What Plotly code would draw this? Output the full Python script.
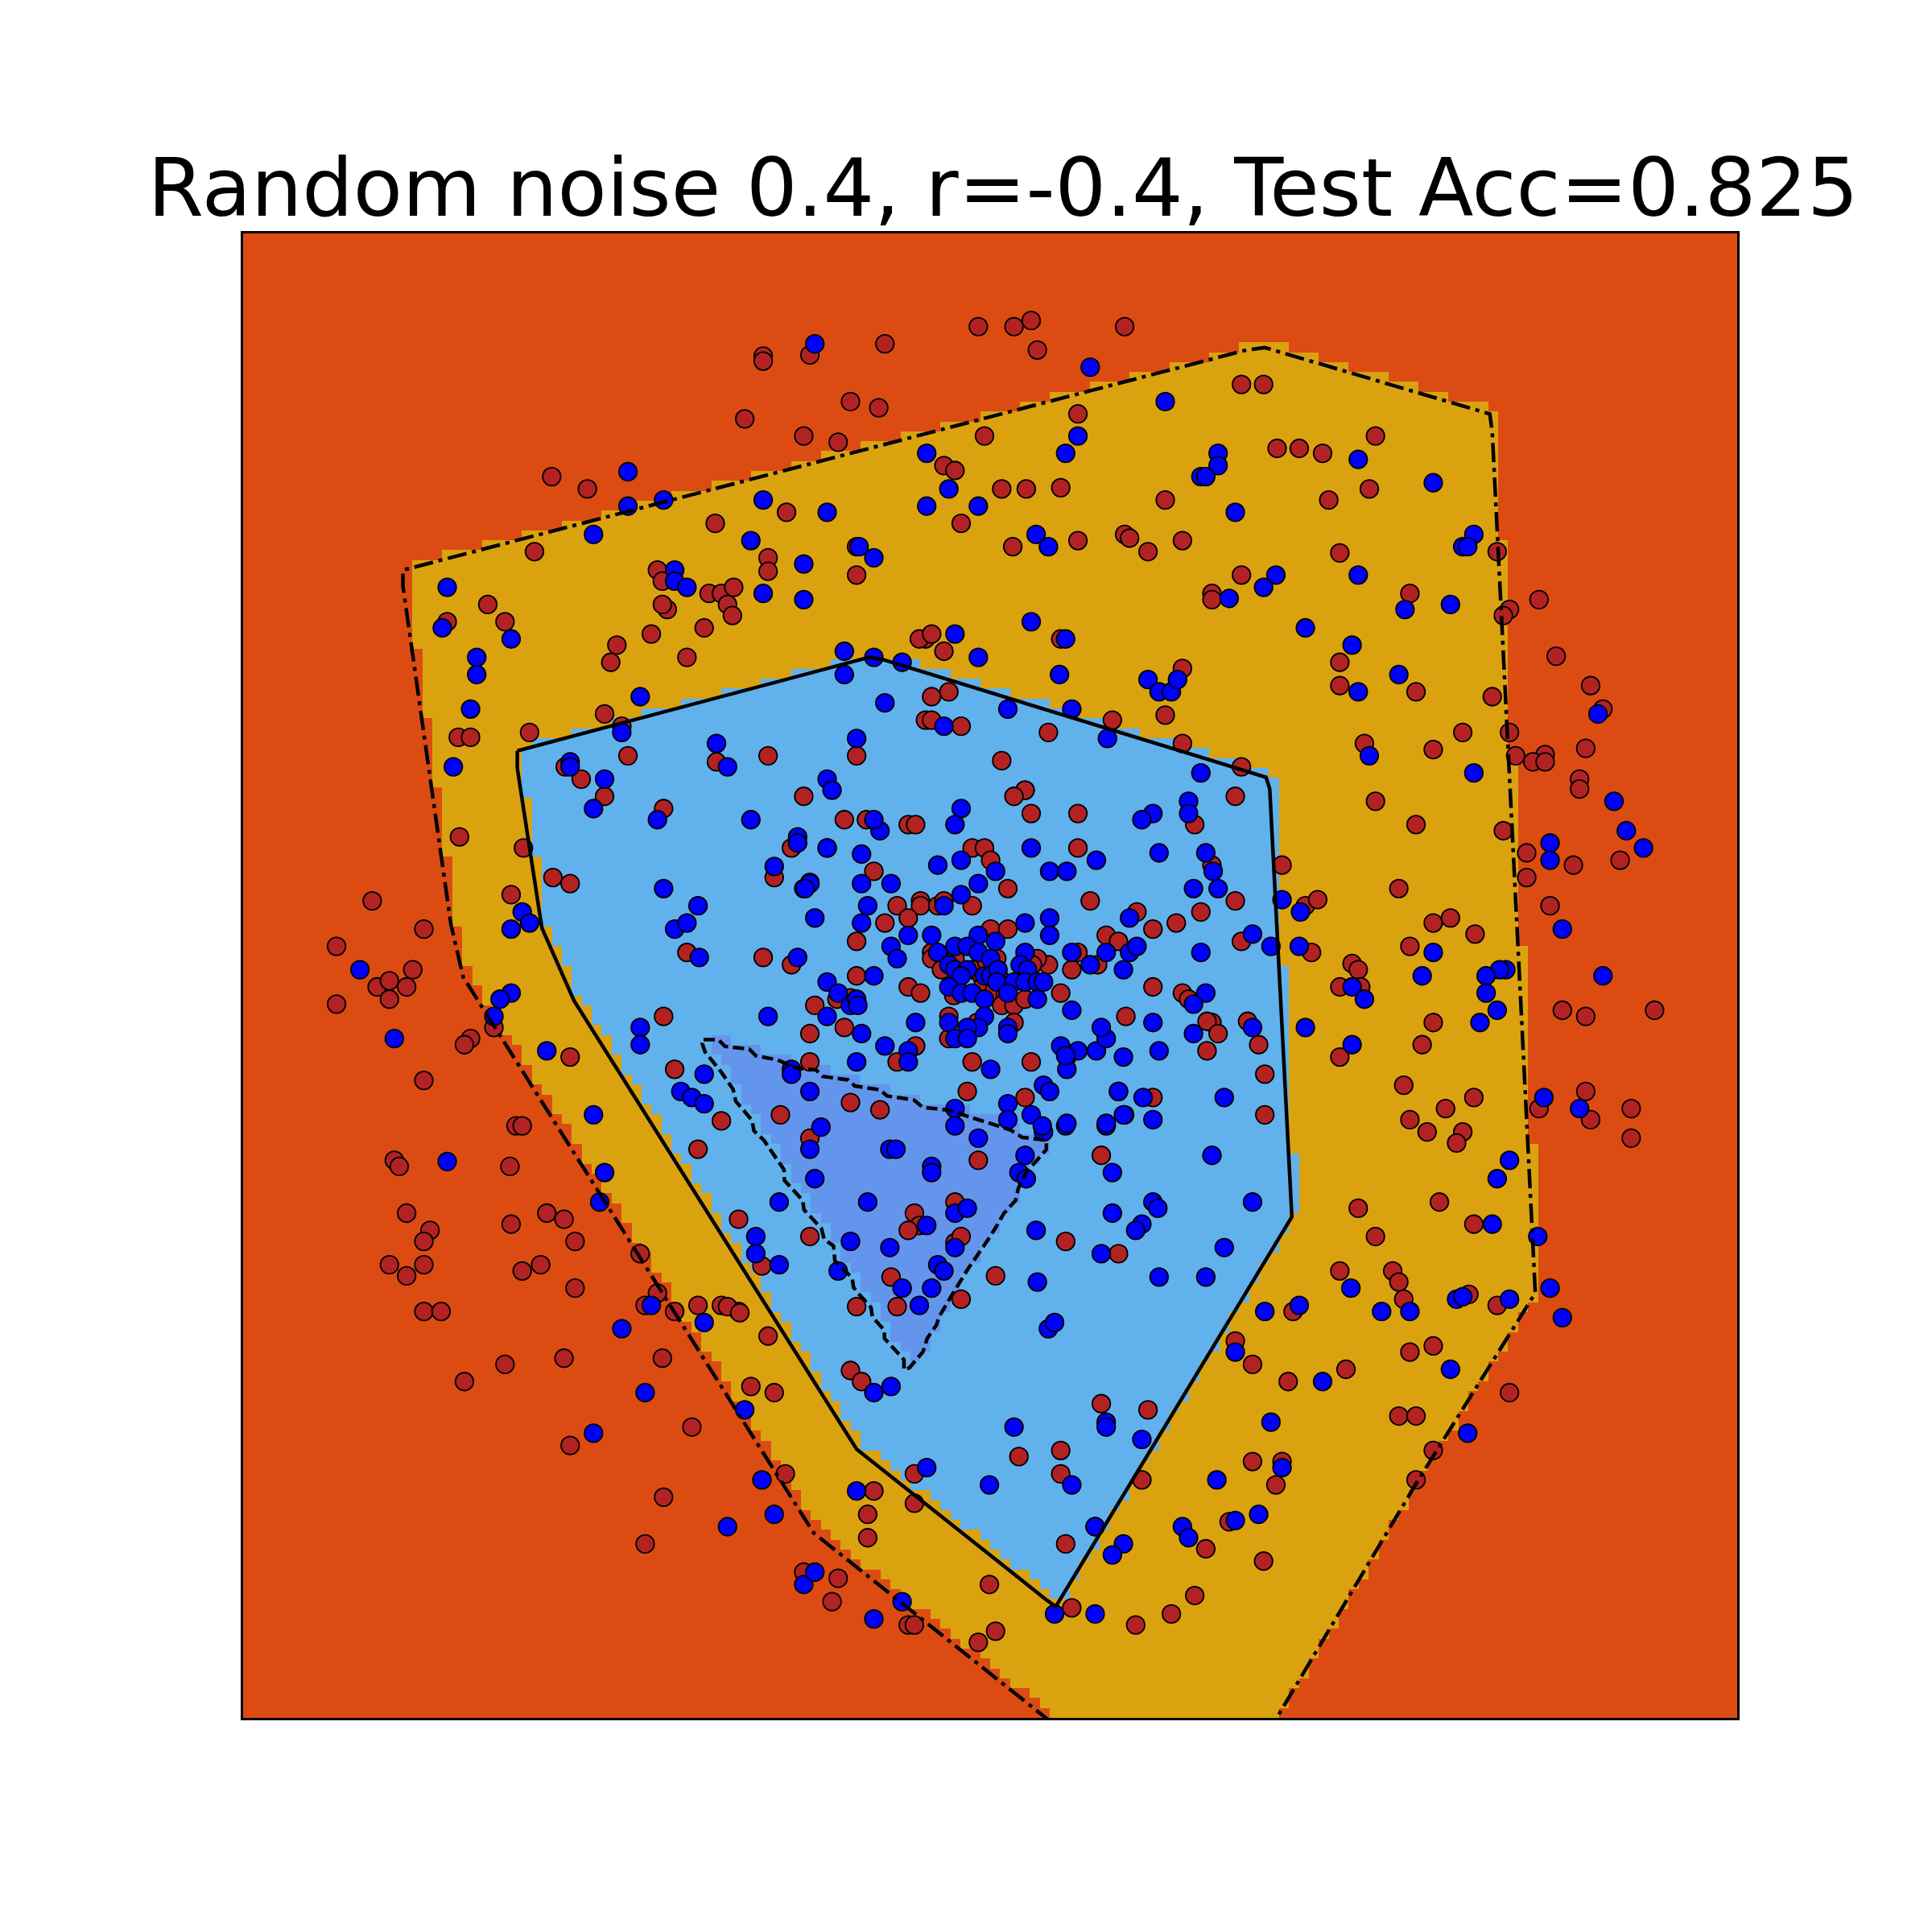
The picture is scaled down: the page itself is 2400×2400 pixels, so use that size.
import numpy as np
import plotly.graph_objects as go

TITLE = "Random noise 0.4, r=-0.4, Test Acc=0.825"
X_RANGE = [196.0, 1411.2]
Y_RANGE = [1395.5, 188.2]
GRID_N = 150

outer_x = [1028,1037,1150,1240,1247,1212,1210,1027,1012,326,326,365,375,660,848,867]
outer_y = [1410,1395,1205,1062,1050,350,335,281,283,462,475,750,793,1245,1395,1410]
middle_x = [419,705,717,1028,1031,1049,857,850,695,465,439,429,419,419]
middle_y = [609,533,535,630.5,640,988,1305,1300,1177,812,753,688,623,609]
inner_x = [570.5,582.5,588,607.6,613,630.4,646.8,662,667.5,688,693.6,714.3,719.7,741.5,749,769.8,794.9,820,829.7,849.3,849.3,833,826.5,824.3,814.5,809,801.4,785,773,762,760,752.4,749,738,733.5,733.5,717.6,717.6,707.8,706.7,696.9,692.5,691.4,677.3,676.2,668.6,666.4,652.2,651.1,636.3,635.9,625,619.5,611.5,609.8,596.7,594.5,584.7,571.6,569.5,570.5]
inner_y = [843.9,843.9,849.4,851.5,857,860.3,867.2,868.5,873.8,876.6,881.6,884.7,889.7,892.9,899,901.2,909.3,917.3,923.4,925.6,933.2,951.7,964.8,974.6,985.5,995.3,1007.3,1031.2,1050.8,1069.4,1075.9,1086.8,1097.7,1110.7,1112.5,1104.2,1086.8,1080.2,1069.4,1061.7,1050.8,1045.4,1037.8,1023.6,1011.6,1006.2,997.5,982.2,974.6,958.3,949.6,934.3,925.6,918,909.3,894,884.2,870,853.7,847.2,843.9]

red_x = [794,823,837,913,842,718,619,619,657,690,713,604,652,680,875,799,766,775,813,833,861,447,476,1008,1026,1037,1055,1074,1117,1079,1112,946,638,580,780,822,875,913,917,932,960,1088,623,623,695,695,433,533,537,
 272,301,343,334,305,315,329,315,272,343,381,376,400,418,423,319,323,413,329,348,343,343,315,329,343,357,414,443,457,466,438,423,466,376,409,457,462,519,523,533,537,547,566,585,599,609,628,561,538,523,637,709,704,704,652,680,675,737,742,794,808,803,870,922,951,970,979,1026,1036,1017,1041,889,865,861,861,827,894,932,927,742,
 1264,1292,1302,1255,1245,1231,1255,1288,1283,1283,1250,1226,1221,1216,1212,1226,1221,1240,1240,1278,1316,1259,1269,1288,1344,1288,1250,1292,1325,1325,1226,1197,1188,1183,1174,1159,1145,1140,1155,1164,
 395,409,500,495,528,571,557,541,537,575,585,595,590,594,362,429,490,504,509,371,381,458,471,538,581,623,652,372,424,448,462,414,628,557,619,538,462,547,566,585,633,657,690,599,657,742,746,775,737,794,780,808,894,865,908,
 1008,984,984,1145,1088,1088,1150,1164,1188,1108,1117,1150,1136,1164,1178,1198,1145,1041,1060,1070,1065,1098,1103,1088,1088,1169,1197,1103,1117,1088,1131,1136,1140,1193,1145,1164,1093,1046,1017,1003,1050,1136,1150,1164,1150,
 903,946,960,960,851,813,832,1003,770,756,751,756,780,751,746,756,766,861,936,955,975,936,960,965,984,1022,1027,1027,936,
 685,703,737,743,837,875,789,799,804,875,818,885,709,747,747,728,737,718,695,761,766,789,804,818,756,756,898,908,875,870,891,851,842,838,809,764,775,789,801,797,803,812,798,807,816,861,813,823,832,774,737,747,695,661,679,690,685,657,657,770,770,743,728,793,823,789,837,785,832,714,914,
 723,728,695,590,600,623,690,699,618,775,780,1216,998,742,490,642,642,1008,832,823,970,984,1003,923,1008,1105,980,989,1013,980,695]
red_y = [264,264,259,264,283,278,288,292,287,325,330,339,353,358,335,353,377,381,396,396,395,386,396,311,311,363,363,367,353,405,396,405,415,424,424,443,438,433,436,447,438,448,452,463,443,466,447,462,471,
 768,731,754,787,801,796,801,811,815,877,843,848,834,914,914,942,947,947,985,999,1008,1027,1027,1036,1065,1065,994,985,990,1008,1027,1032,1046,1122,1108,1103,1174,1018,1060,1050,1103,1065,1060,1060,1065,1126,1131,1159,1216,1254,1197,1211,1230,1249,1277,1282,1301,1320,1320,1334,1325,1287,1306,1320,1311,1296,1258,1268,1206,1187,1187,1240,1254,1178,1197,1183,1140,1145,1202,1197,
 532,556,575,612,618,613,618,607,632,640,486,494,499,447,565,594,674,692,712,702,698,735,820,825,820,886,900,909,900,924,1131,891,919,928,900,919,909,881,848,830,
 490,504,523,537,514,509,533,494,490,481,481,476,490,499,504,594,579,589,613,598,598,622,632,656,618,613,646,679,688,712,717,726,712,773,777,825,858,868,933,910,905,924,895,990,1004,985,995,976,999,942,1055,1036,938,1008,1018,
 466,481,486,481,537,556,561,608,594,603,650,669,721,749,745,758,768,702,735,730,773,782,787,801,858,976,994,981,1004,1032,1032,1041,1055,1051,1098,1093,1112,1122,1108,1089,1065,1150,1150,1178,1202,
 584,580,603,542,594,617,641,646,561,565,584,584,589,518,518,514,528,518,754,749,740,801,806,811,830,848,872,905,891,
 665,665,669,669,660,660,688,688,698,688,721,731,707,731,735,735,745,749,764,735,731,735,754,754,773,778,759,764,773,787,783,783,778,783,778,787,778,787,781,793,796,795,800,804,807,806,816,816,811,808,801,806,792,816,811,810,834,839,862,825,843,849,862,830,830,862,862,886,891,901,825,
 1037,1061,1061,1061,1066,1085,1113,1122,1028,1009,1004,1060,1236,1221,646,688,783,622,641,646,669,702,731,740,764,801,829,839,829,853,613]

blue_x = [661,885,946,875,865,752,989,989,975,979,1103,1164,1003,509,509,538,481,619,671,752,770,794,841,851,1197,1188,1192,609,697,709,652,547,547,557,619,652,362,358,414,386,386,381,367,519,504,1103,1036,1026,998,1141,1178,837,1060,775,865,1098,794,685,709,685,732,860,932,941,951,956,1136,1103,818,870,718,766,899,1298,1112,1197,695,581,590,462,462,490,481,975,965,965,936,927,1311,1321,1335,1259,1259,1269,1302,609,671,675,647,647,628,671,941,979,985,969,989,538,566,657,652,547,557,567,1041,1055,1032,1017,975,423,414,429,647,1223,1218,1207,1207,1098,1108,1155,1164,1216,1202,979,414,405,400,969,936,969,1017,1060,1098,443,319,291,519,519,623,571,552,561,571,941,928,908,913,898,936,994,984,865,847,1254,1283,481,362,490,486,1226,1216,1212,1249,1017,936,940,927,922,903,903,832,827,775,785,775,841,894,994,941,979,842,613,613,632,690,722,761,766,704,657,661,632,722,727,732,756,746,1097,1122,1145,1183,1188,1226,1259,1269,1055,1027,1003,851,856,1178,1074,709,723,604,523,481,571,528,504,898,898,823,927,1032,1192,1041,988,870,803,752,695,618,628,590,1022,1003,960,965,889,912,903,652,661,709,732,856,889,
 780,775,714,709,671,699,837,780,761,808,852,866,890,699,723,794,780,657,653,704,766,661,699,737,756,852,852,832,794,808,723,728,761,775,785,794,804,832,828,834,870,898,885,917,912,770,775,785,780,799,804,810,809,823,832,842,847,770,780,789,799,818,842,870,709,671,680,690,695,696,671,699,743,718,695,737,737,770,799,794,785,775,785,818,818,861,866,866,875,890,898,894,912,804,847,852,908,912,898,818,818,837,775,775,866,846,657,666,
 1056,917,923,533,642,642,752,756,756,833,794,865,680]
blue_y = [278,297,325,353,367,367,367,377,386,386,372,391,415,382,410,405,433,405,415,410,396,410,433,443,433,443,443,438,443,452,457,462,471,476,481,486,476,509,518,533,547,575,622,565,594,466,466,476,485,494,490,504,509,514,518,523,533,528,533,547,537,547,551,561,561,551,547,561,575,575,570,589,599,579,613,627,599,603,622,618,622,632,656,627,650,660,660,665,650,674,688,684,698,754,792,665,632,641,679,684,703,688,692,692,707,721,721,721,735,716,721,754,749,777,730,768,768,758,773,740,754,749,777,787,787,792,806,801,811,792,773,820,830,806,806,811,825,815,830,839,834,834,848,853,843,787,834,848,825,872,886,891,896,853,891,886,905,914,909,891,938,914,919,891,900,905,943,952,976,942,957,994,1004,976,976,981,994,999,985,952,938,952,985,981,1013,999,1018,1013,1037,1037,1041,1004,1018,1027,1008,1013,1027,1032,976,933,957,976,933,933,1046,1046,1060,1046,1065,1065,1055,1053,1055,1046,1070,1060,1065,1098,1079,1074,1112,1122,1131,1126,1145,1131,1164,1074,1060,1079,1155,1159,1159,1169,1155,1164,1192,1202,1206,1206,1192,1211,1202,1230,1240,1230,1235,1240,1249,1240,1254,1263,1287,1277,1315,1301,1311,1311,
 656,669,674,665,688,693,688,698,702,707,707,707,698,717,717,717,726,717,721,735,735,745,749,759,759,745,759,749,759,764,768,778,773,768,768,773,778,773,783,787,773,773,783,773,787,783,787,787,792,792,792,787,797,797,797,797,797,801,806,806,811,806,811,820,792,797,806,816,811,816,825,839,830,849,862,853,862,830,825,834,834,843,843,834,839,849,858,868,853,853,843,834,858,868,881,886,886,905,912,896,909,905,900,914,912,914,886,915,
 740,745,768,665,868,872,995,947,952,957,924,857,1032]

RED, BLUE = "#B22222", "#0000FF"
COLORS = ["#DC4C12", "#DBA210", "#61B1EC", "#6495ED"]


def inside(px, py, xs, ys):
    xs, ys = np.asarray(xs, float), np.asarray(ys, float)
    result = np.zeros(px.shape, bool)
    j = len(xs) - 1
    for i in range(len(xs)):
        with np.errstate(divide="ignore", invalid="ignore"):
            crossing = ((ys[i] > py) != (ys[j] > py)) & (
                px < (xs[j] - xs[i]) * (py - ys[i]) / (ys[j] - ys[i]) + xs[i])
        result ^= crossing
        j = i
    return result


dx = (X_RANGE[1] - X_RANGE[0]) / GRID_N
dy = (Y_RANGE[0] - Y_RANGE[1]) / GRID_N
cx = X_RANGE[0] + dx * (np.arange(GRID_N) + 0.5)
cy = Y_RANGE[1] + dy * (np.arange(GRID_N) + 0.5)
gx, gy = np.meshgrid(cx - dx / 2, cy + dy / 2)   # each cell takes the value at its lower-left corner
z = (inside(gx, gy, outer_x, outer_y).astype(int)
     + inside(gx, gy, middle_x, middle_y).astype(int)
     + inside(gx, gy, inner_x, inner_y).astype(int))

fig = go.Figure()
fig.add_trace(go.Heatmap(
    x=cx, y=cy, z=z, zmin=0, zmax=3, showscale=False, hoverinfo="skip",
    colorscale=[[0, COLORS[0]], [0.25, COLORS[0]], [0.25, COLORS[1]], [0.5, COLORS[1]],
                [0.5, COLORS[2]], [0.75, COLORS[2]], [0.75, COLORS[3]], [1, COLORS[3]]]))
marker_line = dict(color="black", width=1.8)
fig.add_trace(go.Scatter(x=red_x, y=red_y, mode="markers",
                         marker=dict(color=RED, size=22.5, line=marker_line)))
fig.add_trace(go.Scatter(x=blue_x, y=blue_y, mode="markers",
                         marker=dict(color=BLUE, size=22.5, line=marker_line)))
fig.add_trace(go.Scatter(x=outer_x, y=outer_y, mode="lines",
                         line=dict(color="black", width=4.5, dash="24px,7px,5px,7px")))
fig.add_trace(go.Scatter(x=middle_x, y=middle_y, mode="lines",
                         line=dict(color="black", width=4.5)))
fig.add_trace(go.Scatter(x=inner_x, y=inner_y, mode="lines",
                         line=dict(color="black", width=4.5, dash="14px,6px")))

axis = dict(showticklabels=False, ticks="", showgrid=False, zeroline=False,
            showline=True, mirror=True, linecolor="black", linewidth=2.5)
fig.update_layout(
    width=2400, height=2400, showlegend=False, paper_bgcolor="white", plot_bgcolor="white",
    margin=dict(l=294, r=250, t=282, b=274, autoexpand=False),
    xaxis=dict(range=X_RANGE, **axis), yaxis=dict(range=Y_RANGE, **axis),
    title=dict(text=TITLE, x=1238 / 2400, xanchor="center", xref="container",
               y=1 - 260 / 2400, yanchor="bottom",
               font=dict(family="DejaVu Sans", size=100, color="black")))
assert len(red_x) == len(red_y) and len(blue_x) == len(blue_y)
fig.write_html("out.html")
